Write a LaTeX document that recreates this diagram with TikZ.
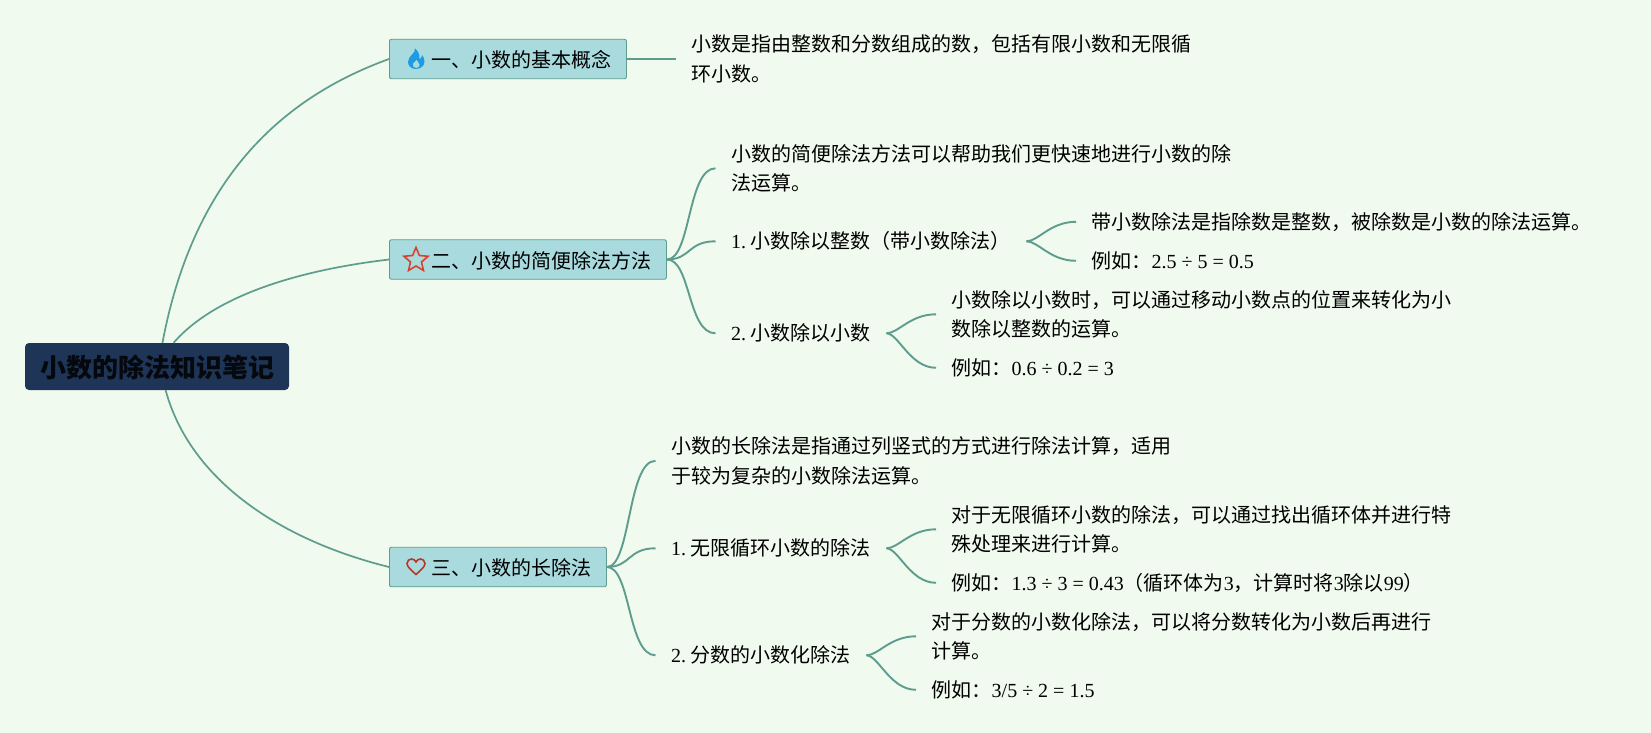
\documentclass[tikz,border=0pt]{standalone}
\usepackage{fontspec}
\setmainfont{Noto Sans CJK SC}
\newfontfamily\numfont{Liberation Serif}
\newcommand{\numtext}[1]{{\numfont #1}}
\usetikzlibrary{shapes.geometric}
\definecolor{paper}{HTML}{F0FAEE}
\definecolor{navy}{HTML}{1E3557}
\definecolor{aqua}{HTML}{A9DBDE}
\definecolor{teal}{HTML}{5E9C8E}
\definecolor{flame}{HTML}{1E9BE2}
\definecolor{rosered}{HTML}{D9412F}
\tikzset{
	rootnode/.style={fill=navy,rounded corners=4pt,minimum width=264pt,minimum height=47pt,inner sep=0pt,text=black!85!navy,text height=25pt,text depth=3.2pt,font=\fontsize{26pt}{30pt}\selectfont\bfseries},
	topic/.style={anchor=west,fill=aqua,draw=teal,line width=0.9pt,rounded corners=2pt,minimum height=39.5pt,inner xsep=14.5pt,inner ysep=0pt,text height=20pt,text depth=2.4pt,execute at begin node=\hspace*{28pt}},
	leaf/.style={anchor=west,align=left,inner xsep=15.5pt,inner ysep=0pt,yshift=-0.8pt},
	link/.style={draw=teal,line width=1.9pt},
	mainlink/.style={draw=teal,line width=1.7pt},
	every node/.append style={font=\fontsize{20pt}{29.5pt}\selectfont}
}
\begin{document}
\begin{tikzpicture}[x=1pt,y=-1pt]
	\useasboundingbox (0,0) rectangle (1651,733);
	\fill[paper] (0,0) rectangle (1651,733);
	\node[rootnode] (root) at (157,366.5) {小数的除法知识笔记};
	\node[topic] (bone) at (389,59) {一、小数的基本概念};
	\node[topic] (btwo) at (389,259.5) {二、小数的简便除法方法};
	\node[topic] (bthree) at (389,567) {三、小数的长除法};
	\node[leaf] (lone) at (676,58.2) {小数是指由整数和分数组成的数，包括有限小数和无限循\\环小数。};
	\node[leaf] (ltwo) at (715.5,167.5) {小数的简便除法方法可以帮助我们更快速地进行小数的除\\法运算。};
	\node[leaf] (stwoa) at (715.5,240.5) {\numtext{1.}\hspace*{4.5pt}小数除以整数（带小数除法）};
	\node[leaf] (stwob) at (715.5,332.5) {\numtext{2.}\hspace*{4.5pt}小数除以小数};
	\node[leaf] (ltwoa) at (1076,221) {带小数除法是指除数是整数，被除数是小数的除法运算。};
	\node[leaf] (etwoa) at (1076,260) {例如：\numtext{2.5 ÷ 5 = 0.5}};
	\node[leaf] (ltwob) at (936,313.5) {小数除以小数时，可以通过移动小数点的位置来转化为小\\数除以整数的运算。};
	\node[leaf] (etwob) at (936,367) {例如：\numtext{0.6 ÷ 0.2 = 3}};
	\node[leaf] (lthree) at (655.5,460) {小数的长除法是指通过列竖式的方式进行除法计算，适用\\于较为复杂的小数除法运算。};
	\node[leaf] (sthreea) at (655.5,547.5) {\numtext{1.}\hspace*{4.5pt}无限循环小数的除法};
	\node[leaf] (sthreeb) at (655.5,654.5) {\numtext{2.}\hspace*{4.5pt}分数的小数化除法};
	\node[leaf] (lthreea) at (936,528.5) {对于无限循环小数的除法，可以通过找出循环体并进行特\\殊处理来进行计算。};
	\node[leaf] (ethreea) at (936,582) {例如：\numtext{1.3 ÷ 3 = 0.43}（循环体为\numtext{3}，计算时将\numtext{3}除以\numtext{99}）};
	\node[leaf] (lthreeb) at (916,635.5) {对于分数的小数化除法，可以将分数转化为小数后再进行\\计算。};
	\node[leaf] (ethreeb) at (916,689) {例如：\numtext{3/5 ÷ 2 = 1.5}};
	\draw[mainlink] (root.77) .. controls (195,170) and (290,95) .. (bone.west);
	\draw[mainlink] (root.55) .. controls (215,295) and (300,270) .. (btwo.west);
	\draw[mainlink] (root.-70) .. controls (190,480) and (280,540) .. (bthree.west);
	\draw[link] (bone.east) -- (lone.west);
	\foreach \from/\to in {btwo/ltwo,btwo/stwoa,btwo/stwob,bthree/lthree,bthree/sthreea,bthree/sthreeb}
		\draw[link] (\from.east) .. controls +(24,0) and +(-28,0) .. (\to.west);
	\foreach \from/\to in {stwoa/ltwoa,stwoa/etwoa,stwob/ltwob,stwob/etwob,sthreea/lthreea,sthreea/ethreea,sthreeb/lthreeb,sthreeb/ethreeb}
		\draw[link] (\from.east) .. controls +(12,0) and +(-26,0) .. (\to.west);
	\begin{scope}[shift={(416,59)}]
		\fill[flame] (-1,-10.5) .. controls (0,-6) and (-8,-3) .. (-8,3) .. controls (-8,7.5) and (-4,10) .. (0,10) .. controls (4.5,10) and (8.5,7) .. (8.5,2.5) .. controls (8.5,0) and (7.5,-2.5) .. (6,-4) .. controls (6,-2) and (5,-0.5) .. (3.5,0) .. controls (4,-4) and (2,-8.5) .. (-1,-10.5) -- cycle;
		\fill[aqua] (0,9) .. controls (-2.5,9) and (-3.5,6.5) .. (-3,5) .. controls (-2.5,3.5) and (-0.5,2.5) .. (0.5,1) .. controls (1.5,3) and (3.5,4) .. (3.5,6) .. controls (3.5,7.5) and (2,9) .. (0,9) -- cycle;
	\end{scope}
	\node[star,star points=5,star point ratio=2.2,draw=rosered,line width=1.6pt,minimum size=25.5pt,inner sep=0pt] (starmark) at (416,260.2) {};
	\begin{scope}[shift={(416,567)}]
		\draw[draw=rosered!85!black,line width=1.6pt] (0,7.5) .. controls (-5,3) and (-9,-0.5) .. (-9,-3.5) .. controls (-9,-6.5) and (-6.5,-8) .. (-4.5,-8) .. controls (-2.5,-8) and (-1,-7) .. (0,-5) .. controls (1,-7) and (2.5,-8) .. (4.5,-8) .. controls (6.5,-8) and (9,-6.5) .. (9,-3.5) .. controls (9,-0.5) and (5,3) .. (0,7.5) -- cycle;
	\end{scope}
\end{tikzpicture}
\end{document}
